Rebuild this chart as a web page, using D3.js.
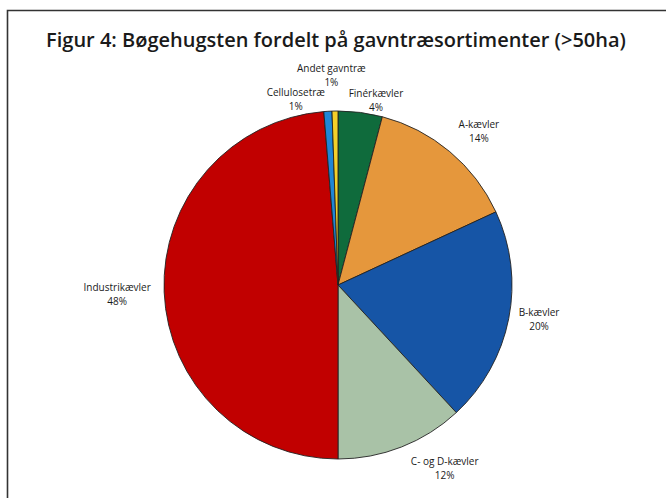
<!DOCTYPE html>
<html>
<head>
<meta charset="utf-8">
<script src="https://cdn.jsdelivr.net/npm/d3@7"></script>
<style>
  html, body { margin: 0; padding: 0; background: #fff; }
  svg { display: block; }
  text { font-family: "Open Sans", "Noto Sans", sans-serif; fill: #1a1a1a; }
</style>
</head>
<body>
<svg id="chart" width="666" height="498"></svg>
<script>
'use strict';

// slices, clockwise from 12 o'clock
const names = ['Finérkævler', 'A-kævler', 'B-kævler', 'C- og D-kævler', 'Industrikævler', 'Cellulosetræ', 'Andet gavntræ'];
const shares = [4.1, 14.0, 20.0, 11.9, 48.7, 0.75, 0.55];
const pctLabels = ['4%', '14%', '20%', '12%', '48%', '1%', '1%'];
const colors = ['#0f6b3c', '#e5973c', '#1655a6', '#a9c2a7', '#c10000', '#1f86d6', '#f4d02a'];

// label placement tweaks relative to the slice centroid (layout only)
const labelNudge = [[11, 23], [6, 7], [-5, -7], [30, -12], [-11, 0], [-30, 24], [-3, 0]];

const width = 666, height = 498,
    cx = 338, cy = 285,
    radius = 174,
    labelRadius = 210;

const svg = d3.select('#chart');

// frame (open at right and bottom like the scan)
svg.append('path')
    .attr('d', `M7.5,${height} L7.5,10.5 L${width},10.5`)
    .attr('fill', 'none')
    .attr('stroke', '#333')
    .attr('stroke-width', 1.6);

// title, fitted to the width it has in the figure
const title = svg.append('text')
    .attr('x', 336)
    .attr('y', 47)
    .attr('text-anchor', 'middle')
    .style('font-weight', '600')
    .style('font-size', '19px')
    .text('Figur 4: Bøgehugsten fordelt på gavntræsortimenter (>50ha)');
const tw = title.node().getComputedTextLength();
title.style('font-size', (19 * 580 / tw).toFixed(2) + 'px');

const pie = d3.pie().sort(null).value(d => d.value);
const data = names.map((n, i) => ({ name: n, value: shares[i], pct: pctLabels[i], color: colors[i], nudge: labelNudge[i] }));
const arcs = pie(data);

const arc = d3.arc().innerRadius(0).outerRadius(radius);
const labelArc = d3.arc().innerRadius(labelRadius).outerRadius(labelRadius);

const g = svg.append('g').attr('transform', `translate(${cx},${cy})`);

g.selectAll('path.slice')
    .data(arcs)
    .enter().append('path')
    .attr('class', 'slice')
    .attr('d', arc)
    .attr('fill', d => d.data.color)
    .attr('stroke', '#222')
    .attr('stroke-width', 0.9)
    .attr('stroke-linejoin', 'round');

const labels = g.selectAll('text.lbl')
    .data(arcs)
    .enter().append('text')
    .attr('class', 'lbl')
    .attr('text-anchor', 'middle')
    .style('font-size', '10px')
    .attr('transform', d => {
        const c = labelArc.centroid(d);
        return `translate(${c[0] + d.data.nudge[0]},${c[1] + d.data.nudge[1]})`;
    });

labels.append('tspan')
    .attr('x', 0)
    .attr('y', -7)
    .attr('dominant-baseline', 'central')
    .text(d => d.data.name);

labels.append('tspan')
    .attr('x', 0)
    .attr('y', 7)
    .attr('dominant-baseline', 'central')
    .text(d => d.data.pct);
</script>
</body>
</html>
